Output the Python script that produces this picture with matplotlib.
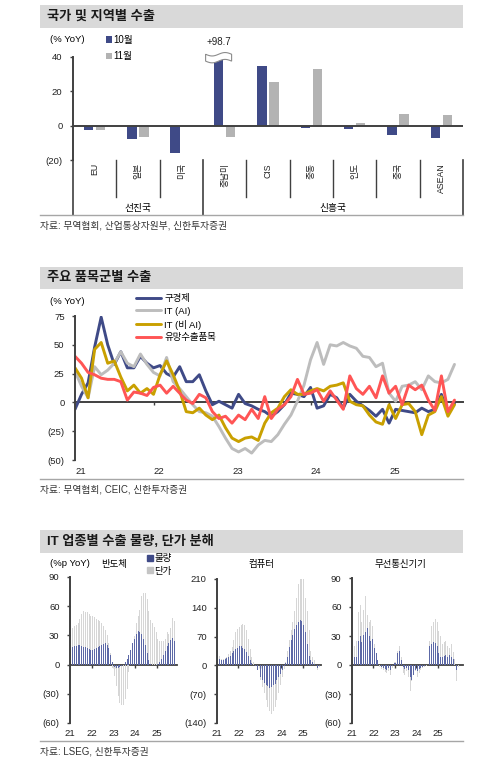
import numpy as np
import matplotlib
matplotlib.use('Agg')
import matplotlib.pyplot as plt
from matplotlib.patches import Rectangle, Polygon
from matplotlib.lines import Line2D

plt.rcParams['font.family'] = ['Liberation Sans', 'Noto Sans CJK KR']
plt.rcParams['axes.unicode_minus'] = False

# ---- data: 국가 및 지역별 수출 ----
regions = ['EU', '일본', '미국', '중남미', 'CIS', '중동', '인도', '중국', 'ASEAN']
exp_oct = [-2.3, -7.7, -16.2, 98.7, 34.6, -1.3, -1.7, -5.2, -7.1]
exp_nov = [-2.3, -6.7, -0.2, -6.7, 25.6, 33.3, 1.7, 6.9, 6.3]
groups = ['선진국', '신흥국']

# ---- data: 주요 품목군별 수출 (monthly, Jan 2021 ~ Nov 2025) ----
old_econ = [-6, 7, 17, 48, 74, 50, 33, 44, 30, 30, 40, 34,
            30, 32, 25, 22, 31, 18, 18, 24, 10, -2, 1, -2,
            -5, 7, -1, -3, -6, -8, -12, -8, -2, 8, 7, 5,
            13, -5, -3, 7, 4, -5, 7, 1, -3, -7, -12, -6,
            -18, -6, -7, -8, -9, -5, -8, -6, 7, -9, -1]
it_ai = [27, 14, 4, 31, 24, 28, 34, 44, 34, 31, 42, 33,
         26, 23, 39, 18, 12, 5, -2, -8, -9, -12, -21, -31,
         -40, -43, -40, -44, -37, -33, -34, -28, -19, -11, 1, 15,
         37, 52, 33, 50, 49, 52, 49, 47, 40, 39, 31, 34,
         8, 1, 14, 15, 18, 11, 23, 18, 17, 20, 33]
it_non_ai = [30, 21, 4, 46, 52, 34, 36, 22, 10, 15, 8, 12,
             7, 24, 36, 24, 10, -8, -9, -5, -11, -15, -11, -22,
             -31, -34, -31, -30, -33, -18, -9, -5, 5, 11, 7, 7,
             10, 12, 10, 14, 15, 17, 1, -2, -3, -11, -17, -19,
             -2, -14, -2, -1, -8, -28, -11, -8, 5, -12, -2]
promising = [40, 34, 26, 24, 21, 20, 20, 18, 2, 9, 8, 6,
             13, 15, 8, 14, 8, 2, -1, 7, 4, -8, -14, -12,
             -18, -11, -15, -6, -14, 5, -14, -6, -2, 5, 20, 7,
             8, 11, 1, 10, 2, -6, 23, 12, 7, 14, 4, 23,
             8, 14, -2, 15, 11, 15, 2, -7, 23, -8, 2]
line_names = ['구경제', 'IT (AI)', 'IT (비 AI)', '유망수출품목']
year_labels = ['21', '22', '23', '24', '25']

# ---- data: IT 업종별 수출 물량/단가 (monthly) ----
semi_total = [34, 38, 40, 41, 43, 47, 52, 55, 54, 54, 52, 50,
              50, 49, 47, 46, 45, 43, 40, 36, 30, 22, 12, -3,
              -12, -22, -32, -39, -42, -41, -35, -25, -8, 9, 15, 29,
              43, 50, 56, 70, 74, 74, 67, 55, 46, 43, 39, 34,
              26, 24, 24, 24, 26, 34, 31, 38, 48, 45]
semi_vol = [18, 18, 19, 19, 20, 20, 19, 18, 18, 17, 16, 15,
            15, 16, 17, 18, 19, 20, 21, 22, 20, 17, 10, 3,
            -2, -3, -3, -2, -1, 0, 3, 6, 10, 15, 22, 26,
            31, 35, 34, 31, 26, 20, 12, 5, 1, 0, 0, 0,
            1, 3, 6, 10, 14, 19, 22, 25, 27, 24]
comp_total = [44, 24, 16, 15, 18, 20, 28, 35, 44, 61, 81, 89,
              93, 97, 101, 97, 85, 65, 40, 20, 8, 2, -12, -24,
              -36, -52, -68, -84, -100, -112, -118, -112, -100, -84, -68, -48,
              -28, -8, 8, 36, 61, 85, 105, 133, 165, 198, 210, 210,
              210, 165, 133, 85, 36, 20, 12, 0, -12, -4]
comp_vol = [36, 16, 14, 12, 15, 18, 20, 24, 30, 35, 40, 43,
            46, 46, 43, 40, 32, 22, 12, 6, 2, -2, -12, -20,
            -28, -36, -43, -48, -51, -54, -52, -48, -44, -36, -28, -20,
            -12, -2, 6, 20, 44, 61, 73, 89, 97, 105, 111, 109,
            97, 81, 52, 24, 12, 8, 4, 0, -6, -2]
wire_total = [11, 20, 25, 55, 62, 45, 57, 71, 52, 45, 47, 40,
              22, 10, 5, -2, -4, -5, -7, -8, -6, -10, -3, 3,
              3, 15, 20, 8, -8, -10, -6, -12, -27, -17, -10, -6,
              -12, -8, -5, -3, -2, -1, 0, 25, 40, 45, 48, 44,
              35, 30, 22, 24, 25, 20, 18, 22, 13, 6, -17, -2]
wire_vol = [5, 8, 8, 25, 30, 24, 31, 34, 38, 30, 25, 27,
            18, 12, 5, 0, -2, -3, -4, -5, -3, -5, -1, 2,
            2, 12, 15, 5, -2, -4, -3, -5, -12, -15, -10, -5,
            -6, -4, -3, -2, -1, 0, 0, 20, 22, 24, 23, 20,
            12, 8, 8, 9, 10, 8, 10, 8, 6, 0, -5, 0]

NAVY = '#3f4a87'
BARNAVY = '#5c68a6'
GREY = '#b3b3b3'
LGREY = '#d6d6d6'
GOLD = '#c9a000'
RED = '#ff5555'
LINEGREY = '#bdbdbd'
AX = '#404040'

W, H = 503, 767
fig = plt.figure(figsize=(W / 100, H / 100), dpi=100)


def fbox(x0, y0, x1, y1):
    return [x0 / W, 1 - y1 / H, (x1 - x0) / W, (y1 - y0) / H]


def header(y0, y1, title, y_line, source):
    fig.add_artist(Rectangle((40 / W, 1 - y1 / H), 423 / W, (y1 - y0) / H,
                             transform=fig.transFigure, facecolor='#d9d9d9',
                             edgecolor='none'))
    fig.text(47 / W, 1 - (y0 + y1) / 2 / H, title, fontsize=9.5,
             fontweight='bold', va='center', ha='left', color='#1a1a1a')
    fig.add_artist(Line2D([40 / W, 463 / W], [1 - y_line / H] * 2,
                          transform=fig.transFigure, color='#a6a6a6', lw=1))
    fig.text(40 / W, 1 - (y_line + 10) / H, source, fontsize=7,
             va='center', ha='left', color='#333333')


def style_y(ax, ticks, labels):
    ax.set_yticks(ticks)
    ax.set_yticklabels(labels)
    for s in ['top', 'right', 'bottom']:
        ax.spines[s].set_visible(False)
    ax.spines['left'].set_color(AX)
    ax.spines['left'].set_linewidth(1.4)
    ax.tick_params(axis='y', length=2.5, width=1, color=AX, labelsize=6.8,
                   pad=5, labelcolor='#222222')


# ================= panel 1 =================
header(5, 28, '국가 및 지역별 수출', 215, '자료: 무역협회, 산업통상자원부, 신한투자증권')
ax1 = fig.add_axes(fbox(73, 57, 463, 160))
x = np.arange(len(regions))
b_oct = ax1.bar(x - 0.14, exp_oct, 0.22, color=NAVY, label='10월')
b_nov = ax1.bar(x + 0.14, exp_nov, 0.22, color=GREY, label='11월')
ax1.set_xlim(-0.5, 8.5)
ax1.set_ylim(-20, 40)
style_y(ax1, [-20, 0, 20, 40], ['(20)', '0', '20', '40'])
ax1.set_xticks([])
ax1.axhline(0, color=AX, lw=1.4)

# break mark on the clipped bar
cut = 3 - 0.14
t = np.linspace(-1, 1, 30)
top = 41.6 + 1.0 * np.sin(t * np.pi)
bot = 37.6 + 1.0 * np.sin(t * np.pi)
pts = np.column_stack([np.r_[cut + 0.3 * t, cut + 0.3 * t[::-1]],
                       np.r_[top, bot[::-1]]])
ax1.add_patch(Polygon(pts, closed=True, facecolor='white', edgecolor='#8c8c8c',
                      lw=0.8, clip_on=False, zorder=5))
ax1.annotate('+98.7', (cut, 40), xytext=(0, 7), textcoords='offset points',
             ha='center', va='bottom', fontsize=7, color='#222222')

tr = ax1.get_xaxis_transform()
for i, name in enumerate(regions):
    ax1.text(i, -0.03, name, transform=tr, rotation=90, ha='center', va='top',
             fontsize=6.3, color='#222222')
for b in [0.5, 1.5, 3.5, 4.5, 5.5, 6.5, 7.5]:
    ax1.plot([b, b], [0, -0.36], transform=tr, color=AX, lw=1, clip_on=False)
for b in [-0.5, 2.5, 8.5]:
    ax1.plot([b, b], [0, -0.53], transform=tr, color=AX, lw=1.2, clip_on=False)
ax1.text(1, -0.47, groups[0], transform=tr, ha='center', va='center', fontsize=7)
ax1.text(5.5, -0.47, groups[1], transform=tr, ha='center', va='center', fontsize=7)

fig.text(50 / W, 1 - 39 / H, '(% YoY)', fontsize=6.8, va='center', ha='left')
ax1.legend(handles=[b_oct, b_nov], loc='upper left', bbox_to_anchor=(106 / W, 1 - 35 / H),
           bbox_transform=fig.transFigure, frameon=False, fontsize=7,
           handlelength=0.6, handleheight=0.6, handletextpad=0.2,
           labelspacing=0.65, borderpad=0, borderaxespad=0)

# ================= panel 2 =================
header(267, 289, '주요 품목군별 수출', 479, '자료: 무역협회, CEIC, 신한투자증권')
ax2 = fig.add_axes(fbox(75, 316, 463, 460))
months = np.arange(len(old_econ))
handles = []
for series, color, name in zip([old_econ, it_ai, it_non_ai, promising],
                               [NAVY, LINEGREY, GOLD, RED], line_names):
    h, = ax2.plot(months, series, color=color, lw=2.1, label=name,
                  solid_joinstyle='round', solid_capstyle='round')
    handles.append(h)
ax2.set_xlim(0, 59.3)
ax2.set_ylim(-50, 75)
style_y(ax2, [-50, -25, 0, 25, 50, 75], ['(50)', '(25)', '0', '25', '50', '75'])
ax2.set_xticks([0, 12, 24, 36, 48])
ax2.set_xticklabels(year_labels, ha='left')
ax2.tick_params(axis='x', length=0, labelsize=6.8, pad=5, labelcolor='#222222')
sec2 = ax2.secondary_xaxis(0.4)
sec2.set_xticks([12, 24, 36, 48])
sec2.tick_params(axis='x', length=2.5, width=1, color=AX, labelbottom=False)
sec2.spines['bottom'].set_color(AX)
sec2.spines['bottom'].set_linewidth(1.4)
fig.text(50 / W, 1 - 302 / H, '(% YoY)', fontsize=6.8, va='center', ha='left')
ax2.legend(handles=handles, loc='upper left', bbox_to_anchor=(136 / W, 1 - 294 / H),
           bbox_transform=fig.transFigure, frameon=False, fontsize=6.8,
           handlelength=2.6, handletextpad=0.4, labelspacing=0.4,
           borderpad=0, borderaxespad=0)

# ================= panel 3 =================
header(530, 553, 'IT 업종별 수출 물량, 단가 분해', 741, '자료: LSEG, 신한투자증권')


def it_panel(box, total, vol, step, xmax, title, tx):
    ax = fig.add_axes(fbox(*box))
    pos = np.arange(len(total)) + 0.5
    hp = ax.bar(pos, total, 0.55, color=LGREY, label='단가')
    hv = ax.bar(pos, vol, 0.55, color=BARNAVY, label='물량')
    ax.set_xlim(0, xmax)
    ax.set_ylim(-2 * step, 3 * step)
    ticks = [-2 * step, -step, 0, step, 2 * step, 3 * step]
    style_y(ax, ticks, ['({})'.format(2 * step), '({})'.format(step), '0',
                        str(step), str(2 * step), str(3 * step)])
    ax.set_xticks([0, 12, 24, 36, 48])
    ax.set_xticklabels(year_labels)
    ax.tick_params(axis='x', length=0, labelsize=6.8, pad=4, labelcolor='#222222')
    sec = ax.secondary_xaxis(0.4)
    sec.set_xticks([12, 24, 36, 48])
    sec.tick_params(axis='x', length=2, width=1, color=AX, labelbottom=False)
    sec.spines['bottom'].set_color(AX)
    sec.spines['bottom'].set_linewidth(1.3)
    fig.text(tx / W, 1 - 564 / H, title, fontsize=6.8, ha='center', va='center')
    return ax, hv, hp


ax3a, hv, hp = it_panel((70, 577, 177, 723), semi_total, semi_vol, 30, 59, '반도체', 114)
it_panel((217, 579, 321, 723), comp_total, comp_vol, 70, 58.2, '컴퓨터', 261)
it_panel((352, 578, 463, 723), wire_total, wire_vol, 30, 62, '무선통신기기', 400)
fig.text(50 / W, 1 - 563 / H, '(%p YoY)', fontsize=6.8, va='center', ha='left')
mv = Rectangle((0, 0), 1, 1, color=NAVY)
mp = Rectangle((0, 0), 1, 1, color='#c4c4c4')
ax3a.legend(handles=[mv, mp], labels=['물량', '단가'], loc='upper left',
            bbox_to_anchor=(147 / W, 1 - 554 / H),
            bbox_transform=fig.transFigure, frameon=False, fontsize=6.8,
            handlelength=0.6, handleheight=0.6, handletextpad=0.2,
            labelspacing=0.4, borderpad=0, borderaxespad=0)

fig.savefig('out.png', dpi=100)
